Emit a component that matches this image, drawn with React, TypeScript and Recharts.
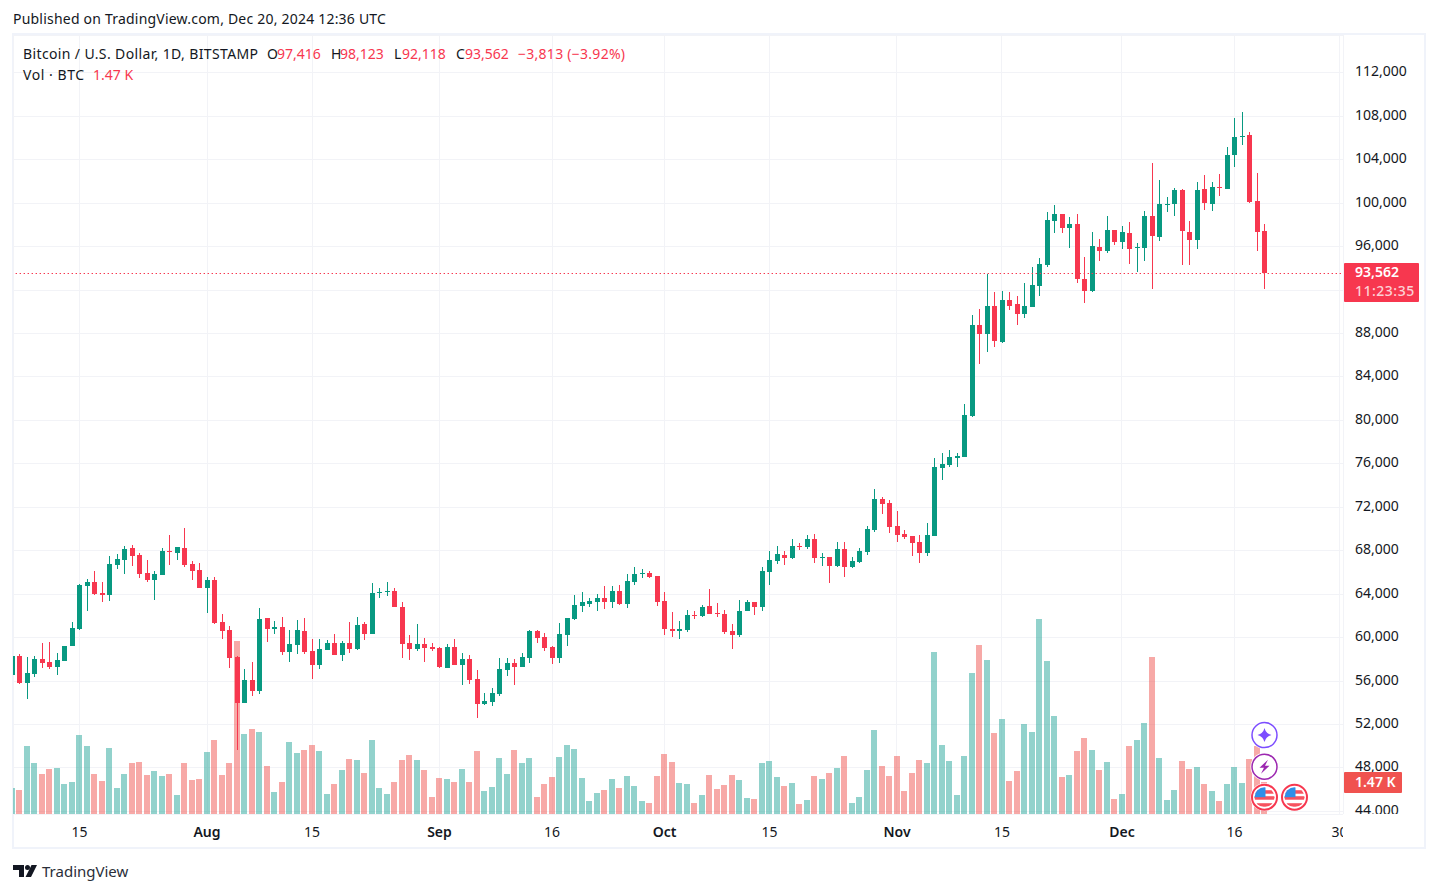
import React from "react";
import { ComposedChart, Bar, XAxis, YAxis, CartesianGrid, ReferenceLine, ReferenceDot } from "recharts";

const opens = [56560,58309,55824,56652,58033,57757,57297,57849,59230,60795,64754,65122,64110,63925,66688,67148,68253,67608,65951,65306,65767,67976,67792,68253,66780,66227,64570,65306,61439,60703,58217,53982,56099,55087,61808,60795,60979,58677,59322,60611,58769,57480,58861,59506,58401,59506,58953,61255,60334,64109,64201,64293,62820,59506,58953,59414,59138,59045,57204,59138,57480,58033,56191,53890,54074,54810,57020,57664,57296,58125,60611,60058,59138,58125,60242,61716,62912,63096,63280,63649,63280,64293,63096,65122,65858,65950,65674,63373,60795,60610,60702,62084,61991,62912,62268,62176,60610,60242,62452,63280,62820,66043,67055,67608,67332,68436,68344,69081,67332,67424,66595,68160,66503,66964,67885,69910,72764,72396,70278,69542,69358,68805,67792,69358,75618,75895,76539,76631,80406,88784,87956,90534,87219,91086,90718,89797,90442,92375,94308,98360,99004,97715,98083,93019,91915,95966,95597,97531,96426,97255,95874,95874,98820,96886,99833,99925,101214,97347,96610,101306,99925,101490,101306,104436,106093,106278,100201,97416];
const highs = [58309,58494,58217,58309,59506,59598,58585,59230,61439,64938,65399,66135,65122,67516,67700,68437,68529,67792,67148,66135,68253,69449,68345,70094,67056,66872,65583,65583,62176,61071,58309,57112,57757,62728,61808,61532,61900,60703,61624,61808,59874,59874,59782,60334,59690,61439,61900,61439,65030,64570,65122,64570,63281,60242,61255,59966,59506,59138,59414,59874,58585,58401,57020,54902,55363,58125,58125,58033,58585,60703,60703,60426,59230,61347,61808,63925,64201,63649,64017,64754,64754,64846,65858,66503,66319,66135,65674,64201,62360,61531,62544,62452,63004,64477,63188,62544,61255,63465,63465,63280,66503,67976,68436,67976,69081,68713,69449,69541,67792,67424,68805,68805,67424,68253,70278,73685,72948,72672,71659,69910,69358,69450,70555,76539,76999,77276,76999,81511,89705,90258,93480,91823,91915,91823,91454,92651,94125,94953,99188,99833,99004,98728,99004,95045,97347,96702,98820,97531,97899,98267,96334,99280,103700,102134,100569,101398,101306,98360,101950,102595,101950,102687,105173,107843,108395,106554,102779,98123];
const lows = [56560,55731,54350,56376,57204,57112,56560,57849,59230,60703,62452,63925,63281,63373,66319,65859,66596,65491,65122,63465,65767,66688,67148,66503,65306,64570,62268,61255,59874,57204,49655,53982,54626,54811,59598,60335,58401,57757,58494,58493,56191,57112,58861,58401,57849,58585,58861,59782,60334,63649,63833,62820,58125,57941,58769,57756,58769,57204,57204,57480,55639,55731,52601,53797,53705,54626,56467,55639,57296,57664,59506,58769,57572,57664,59230,61624,62360,62820,62452,62636,62728,63004,62728,64846,65490,65490,62912,60242,60058,59874,60518,61715,61899,62176,61899,60334,58953,60058,62452,62084,62452,64846,66779,66687,67240,68068,68160,66871,66595,65030,66503,65582,66411,66872,67608,69726,71383,69634,68805,69081,67516,66872,67516,69358,74514,75711,75711,76631,80314,85194,86299,86759,87127,90165,88784,89429,90442,91454,94124,97255,97255,95874,92651,90810,91823,94677,95413,96150,95782,94401,93664,94677,92099,96518,99188,98820,94308,94308,95782,99372,99280,100661,101306,103331,105357,100017,95597,92118];
const closes = [58309,55824,56744,58033,57665,57297,57941,59230,60887,64846,65122,64018,63925,66780,67240,68161,67516,65859,65306,65859,67976,67884,68345,66688,66135,64570,65306,61348,60611,58125,53982,56099,55087,61716,60795,60979,58677,59414,60703,58677,57480,58953,59506,58401,59506,58953,61163,60334,64109,64201,64293,62820,59414,58953,59414,59045,58953,57296,59138,57480,58033,56099,53890,54166,54902,57112,57664,57296,58217,60611,59966,59045,58125,60334,61808,63004,63280,63373,63649,63280,64293,63096,65214,65858,65950,65582,63280,60795,60610,60795,62084,61991,62820,62176,62176,60518,60242,62452,63280,62820,66135,67147,67700,67332,68436,68344,69081,67332,67424,66595,68160,66503,67055,67977,70002,72764,72304,70186,69450,69266,68713,67792,69450,75711,75987,76631,76723,80498,88784,87956,90534,87311,91086,90534,89797,90534,92467,94401,98452,99004,97715,98083,93019,91915,96058,95597,97531,96426,97347,95782,95966,98820,96978,99925,99925,101214,97439,96610,101214,100017,101490,101398,104436,106093,106185,100109,97347,93562];
const volumes = [1.19,1.10,3.12,2.34,1.83,2.06,2.11,1.38,1.47,3.62,3.12,1.83,1.51,3.03,1.19,1.83,2.34,2.39,1.79,1.97,1.74,1.83,0.87,2.34,1.56,1.61,2.84,3.39,1.79,2.34,7.94,3.67,3.90,3.76,2.20,1.01,1.47,3.30,2.80,2.94,3.17,2.89,0.92,1.38,2.02,2.52,2.48,1.88,3.39,1.19,0.92,1.47,2.48,2.71,2.48,2.02,0.78,1.65,1.61,1.47,2.06,1.47,2.89,1.06,1.24,2.57,1.83,2.94,2.34,2.57,0.78,1.38,1.70,2.61,3.17,2.98,1.65,0.60,0.96,1.10,1.61,1.19,1.74,1.28,0.60,0.50,1.74,2.75,2.39,1.42,1.38,0.50,0.87,1.79,1.15,1.33,1.79,1.56,0.73,0.69,2.34,2.43,1.70,1.28,1.42,0.46,0.64,1.74,1.61,1.88,2.11,2.66,0.50,0.76,2.00,3.84,2.19,1.73,2.65,1.04,1.87,2.46,2.32,7.42,3.15,2.42,0.86,2.65,6.45,7.74,7.05,3.70,4.34,1.50,1.96,4.11,3.75,8.93,7.00,4.48,1.68,1.77,2.87,3.47,2.92,2.00,2.37,0.67,0.90,3.10,3.38,4.16,7.19,2.55,0.63,1.09,2.42,2.05,2.14,1.36,1.04,0.58,1.36,2.14,1.41,2.51,3.10,1.47];

const priceTicks = [44000,48000,52000,56000,60000,64000,68000,72000,76000,80000,84000,88000,92000,96000,100000,104000,108000,112000];
const hiddenPriceLabels = [92000];
const tickDays = [9,26,40,57,72,87,101,118,132,148,163,177];
const tickLabels = ["15","Aug","15","Sep","16","Oct","15","Nov","15","Dec","16","30"];
const monthLabels = ["Aug","Sep","Oct","Nov","Dec"];

const eventDays = [167,167,167,171];
const eventLevels = [3.62,2.17,0.77,0.77];
const eventKinds = ["star","bolt","flag","flag"];

const lastPrice = 93562;
const lastVolume = 1.47;
const countdown = "11:23:35";

const UP = "#089981";
const DOWN = "#f7374f";
const FONT = "'Noto Sans', Roboto, sans-serif";
const INK = "#131722";
const GRID = "#f2f3f7";
const DAY_DOMAIN = [0.1333, 177.4667];
const PRICE_DOMAIN = [43761, 115486];
const VOL_DOMAIN = [0, 35.73];

const rows = opens.map((open, i) => ({
  day: i,
  open,
  close: closes[i],
  range: [lows[i], highs[i]],
  vol: volumes[i],
}));

const fmt = (v: number) => v.toLocaleString("en-US");

function Candle(props: any) {
  const { x, y, width, height, payload } = props;
  const top = Math.min(y, y + height);
  const span = Math.abs(height);
  const hi = payload.range[1];
  const lo = payload.range[0];
  const py = (p: number) => top + ((hi - p) / (hi - lo || 1)) * span;
  const c = x + width / 2;
  const left = Math.ceil(c - 2.5);
  const color = payload.close >= payload.open ? UP : DOWN;
  const b0 = Math.round(py(Math.max(payload.open, payload.close)));
  const b1 = Math.round(py(Math.min(payload.open, payload.close)));
  return (
    <g shapeRendering="crispEdges">
      <rect x={left + 2} y={Math.round(top)} width={1} height={Math.max(1, Math.round(span))} fill={color} />
      <rect x={left} y={b0} width={5} height={Math.max(1, b1 - b0)} fill={color} />
    </g>
  );
}

function VolumeBar(props: any) {
  const { x, y, width, height, payload } = props;
  const c = x + width / 2;
  const left = Math.ceil(c - 3.5);
  const right = Math.floor(c + 3.5);
  const color = payload.close >= payload.open ? "#26a69a" : "#ef5350";
  return <rect x={left} y={y} width={right - left} height={height} fill={color} fillOpacity={0.5} shapeRendering="crispEdges" />;
}

function XTick(props: any) {
  const { x, y, index } = props;
  const label = tickLabels[index];
  return (
    <g clipPath="url(#timeClip)">
      <text x={x} y={y + 11} textAnchor="middle" fontFamily={FONT} fontSize={14} fill={INK} fontWeight={monthLabels.includes(label) ? 600 : 400} dominantBaseline="central">
        {label}
      </text>
    </g>
  );
}

function YTick(props: any) {
  const { y, payload } = props;
  if (hiddenPriceLabels.includes(payload.value)) return <g />;
  return (
    <g clipPath="url(#priceClip)">
      <text x={1355} y={y - 2} fontFamily={FONT} fontSize={14} fill={INK} dominantBaseline="central">
        {fmt(payload.value)}
      </text>
    </g>
  );
}

function DottedLine(props: any) {
  const { x1, y1, x2 } = props;
  const y = Math.floor(y1) + 0.5;
  return <line x1={x1} x2={x2} y1={y} y2={y} stroke={DOWN} strokeWidth={1} strokeDasharray="1.4 2.6" strokeDashoffset={2} />;
}

function PriceTag(props: any) {
  const y = props.viewBox.y;
  return (
    <g>
      <rect x={1344} y={y - 10} width={75} height={39} rx={1} fill={DOWN} />
      <text x={1355} y={y - 1.5} fontFamily={FONT} fontSize={14} fontWeight={600} fill="#ffffff" dominantBaseline="central">{fmt(lastPrice)}</text>
      <text x={1355} y={y + 17.5} fontFamily={FONT} fontSize={14} fontWeight={500} letterSpacing={0.5} fill="#fdd0d5" dominantBaseline="central">{countdown}</text>
    </g>
  );
}

function VolumeTag(props: any) {
  const y = props.viewBox.y;
  return (
    <g>
      <rect x={1344} y={y - 10} width={58} height={21} rx={1} fill="#f0524f" />
      <text x={1355} y={y - 0.5} fontFamily={FONT} fontSize={14} fontWeight={600} fill="#ffffff" dominantBaseline="central">{lastVolume} K</text>
    </g>
  );
}

function EmptyMark() {
  return <g />;
}

function EventIcon(props: any) {
  const { cx, cy, kind, clipId } = props;
  if (kind === "flag") {
    return (
      <g transform={`translate(${cx},${cy})`}>
        <defs><clipPath id={clipId}><circle r={10} /></clipPath></defs>
        <circle r={14} fill="#ffffff" />
        <circle r={12.5} fill="#ffffff" stroke={DOWN} strokeWidth={2} />
        <g clipPath={`url(#${clipId})`}>
          <rect x={-11} y={-7} width={22} height={3.5} fill="#f7525f" />
          <rect x={-11} y={-1} width={22} height={3.5} fill="#f7525f" />
          <rect x={-11} y={6} width={22} height={3.5} fill="#f7525f" />
          <rect x={-11} y={-11} width={12} height={11} fill="#2f8fe8" />
        </g>
      </g>
    );
  }
  const color = kind === "star" ? "#7c4dff" : "#9c27b0";
  return (
    <g transform={`translate(${cx},${cy})`}>
      <circle r={14} fill="#ffffff" />
      <circle r={12.5} fill="#ffffff" stroke={color} strokeWidth={1.5} />
      {kind === "star" ? (
        <path d="M0 -7 Q1.4 -1.4 7 0 Q1.4 1.4 0 7 Q-1.4 1.4 -7 0 Q-1.4 -1.4 0 -7Z" fill={color} />
      ) : (
        <path d="M3.5 -7 L-5 1 L-0.5 1 L-3.5 7 L5 -1 L0.5 -1 Z" fill={color} />
      )}
    </g>
  );
}

const text = (left: number, top: number, content: string, color: string, extra: any = {}) => (
  <div style={{ position: "absolute", left, top, fontFamily: FONT, fontSize: 14, lineHeight: "20px", color, whiteSpace: "nowrap", ...extra }}>{content}</div>
);

export default function App() {
  return (
    <div style={{ position: "absolute", left: 0, top: 0, width: 1438, height: 893, background: "#ffffff", overflow: "hidden" }}>
      <div style={{ position: "absolute", left: 12, top: 33, width: 1410, height: 812, border: "2px solid #f0f3fa" }} />
      <div style={{ position: "absolute", left: 0, top: 0 }}>
        <ComposedChart width={1438} height={893} data={rows} margin={{ top: 35, right: 0, bottom: 0, left: 13 }} barGap={0}>
          <defs>
            <clipPath id="timeClip"><rect x={0} y={814} width={1343} height={36} /></clipPath>
            <clipPath id="priceClip"><rect x={1344} y={35} width={80} height={779} /></clipPath>
          </defs>
          <CartesianGrid xAxisId="candle" yAxisId="price" stroke={GRID} strokeWidth={1} shapeRendering="crispEdges" />
          <XAxis xAxisId="candle" dataKey="day" type="number" domain={DAY_DOMAIN} allowDataOverflow ticks={tickDays} interval={0} height={79} axisLine={false} tickLine={false} tickMargin={0} tick={<XTick />} />
          <XAxis xAxisId="vol" dataKey="day" type="number" domain={DAY_DOMAIN} allowDataOverflow ticks={tickDays} hide />
          <YAxis yAxisId="price" orientation="right" type="number" domain={PRICE_DOMAIN} ticks={priceTicks} interval={0} width={95} axisLine={false} tickLine={false} tick={<YTick />} />
          <YAxis yAxisId="vol" type="number" domain={VOL_DOMAIN} hide />
          <Bar xAxisId="vol" yAxisId="vol" dataKey="vol" barSize={5} shape={<VolumeBar />} isAnimationActive={false} />
          <ReferenceLine xAxisId="candle" yAxisId="price" y={lastPrice} shape={<DottedLine />} />
          <Bar xAxisId="candle" yAxisId="price" dataKey="range" barSize={5} shape={<Candle />} isAnimationActive={false} />
          {eventDays.map((d, i) => (
            <ReferenceDot key={i} xAxisId="candle" yAxisId="vol" x={d} y={eventLevels[i]} ifOverflow="visible" shape={<EventIcon kind={eventKinds[i]} clipId={`flagClip${i}`} />} />
          ))}
        </ComposedChart>
      </div>
      <div style={{ position: "absolute", left: 0, top: 0 }}>
        <ComposedChart width={1438} height={893} data={rows} margin={{ top: 35, right: 95, bottom: 79, left: 13 }}>
          <XAxis xAxisId="top" dataKey="day" type="number" domain={DAY_DOMAIN} allowDataOverflow ticks={tickDays} hide />
          <YAxis yAxisId="topPrice" type="number" domain={PRICE_DOMAIN} hide />
          <YAxis yAxisId="topVol" type="number" domain={VOL_DOMAIN} hide />
          <Bar xAxisId="top" yAxisId="topPrice" dataKey="range" barSize={5} shape={<EmptyMark />} isAnimationActive={false} />
          <Bar xAxisId="top" yAxisId="topVol" dataKey="vol" barSize={5} shape={<EmptyMark />} isAnimationActive={false} />
          <ReferenceLine xAxisId="top" yAxisId="topPrice" y={lastPrice} stroke="transparent" label={<PriceTag />} />
          <ReferenceLine xAxisId="top" yAxisId="topVol" y={lastVolume} stroke="transparent" label={<VolumeTag />} />
        </ComposedChart>
      </div>
      {text(13, 9, "Published on TradingView.com, Dec 20, 2024 12:36 UTC", INK, { letterSpacing: 0.21 })}
      {text(23, 44, "Bitcoin / U.S. Dollar, 1D, BITSTAMP", INK, { letterSpacing: 0.37 })}
      {text(267, 44, "O", INK)}
      {text(277, 44, "97,416", DOWN)}
      {text(331, 44, "H", INK)}
      {text(340, 44, "98,123", DOWN)}
      {text(394, 44, "L", INK)}
      {text(402, 44, "92,118", DOWN)}
      {text(456, 44, "C", INK)}
      {text(465, 44, "93,562", DOWN)}
      {text(518, 44, "\u22123,813 (\u22123.92%)", DOWN, { letterSpacing: 0.27 })}
      {text(23, 65, "Vol \u00b7 BTC", INK, { letterSpacing: 0.55 })}
      {text(93, 65, "1.47 K", DOWN)}
      <svg style={{ position: "absolute", left: 13, top: 864 }} width={26} height={14} viewBox="0 0 26 14">
        <path d="M0 1H11V13H6V6H0Z M24 1L18 13H12.5L18.5 1Z" fill={INK} />
        <circle cx={14.5} cy={3.5} r={2.5} fill={INK} />
      </svg>
      {text(42, 861, "TradingView", INK, { fontSize: 15, color: "#2a2e39" })}
    </div>
  );
}
